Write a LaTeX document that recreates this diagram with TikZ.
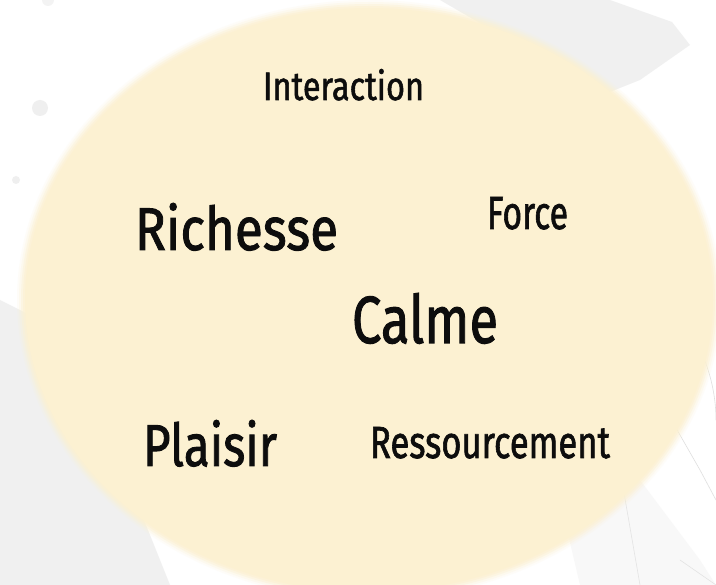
\documentclass[tikz,border=0pt]{standalone}
\usepackage{fontspec}
\setmainfont{Fira Sans}
\newfontfamily\wordfont{Fira Sans}[FakeBold=1.6]
\usepackage{graphicx}
\definecolor{disc}{RGB}{252,241,210}
\definecolor{sketch}{RGB}{236,236,236}
\tikzset{
  word/.style={anchor=base west, inner sep=0pt, outer sep=0pt, text=black!95, font=\wordfont},
  sketchfill/.style={fill=sketch, draw=none, fill opacity=0.75},
  sketchline/.style={draw=gray!25, line width=0.6pt, line cap=round}
}
\newcommand{\wordbox}[3]{\resizebox{#1pt}{#2pt}{#3}}
\begin{document}
\begin{tikzpicture}[x=1pt,y=-1pt]
\useasboundingbox (0,0) rectangle (716,585);
\fill[white] (0,0) rectangle (716,585);
% faint background sketch
\fill[sketchfill] (440,0) -- (610,0) -- (672,22) -- (690,45) -- (640,80) -- (600,96) -- (560,70) -- (500,35) -- cycle;
\fill[sketchfill] (0,300) -- (40,320) -- (90,420) -- (140,510) -- (170,585) -- (0,585) -- cycle;
\fill[sketch, opacity=0.8] (40,108) circle (8);
\fill[sketch, opacity=0.8] (16,180) circle (4);
\fill[sketch, opacity=0.6] (48,0) circle (6);
\draw[sketchline] (620,330) -- (700,470) -- (716,500);
\draw[sketchline] (660,300) .. controls (700,330) and (716,380) .. (716,420);
\draw[sketchline] (620,470) -- (640,585);
\draw[sketchline] (680,560) -- (716,585);
\fill[sketch, opacity=0.35] (560,500) -- (640,480) -- (700,560) -- (716,585) -- (580,585) -- cycle;
% soft disc
\foreach \d/\o in {8/0.15,6/0.25,4/0.4,2/0.6,0/1}{
  \fill[disc, opacity=\o] (369,300) ellipse ({344+\d} and {292+\d});
}
% words
\node[word] (interaction) at (263,100) {\wordbox{161}{31}{Interaction}};
\node[word] (richesse) at (135,250) {\wordbox{203}{47}{Richesse}};
\node[word] (force) at (487,229) {\wordbox{81}{32}{Force}};
\node[word] (calme) at (352,343) {\wordbox{146}{50}{Calme}};
\node[word] (plaisir) at (143,466) {\wordbox{134}{46}{Plaisir}};
\node[word] (ressourcement) at (370,458) {\wordbox{240}{31}{Ressourcement}};
\end{tikzpicture}
\end{document}
